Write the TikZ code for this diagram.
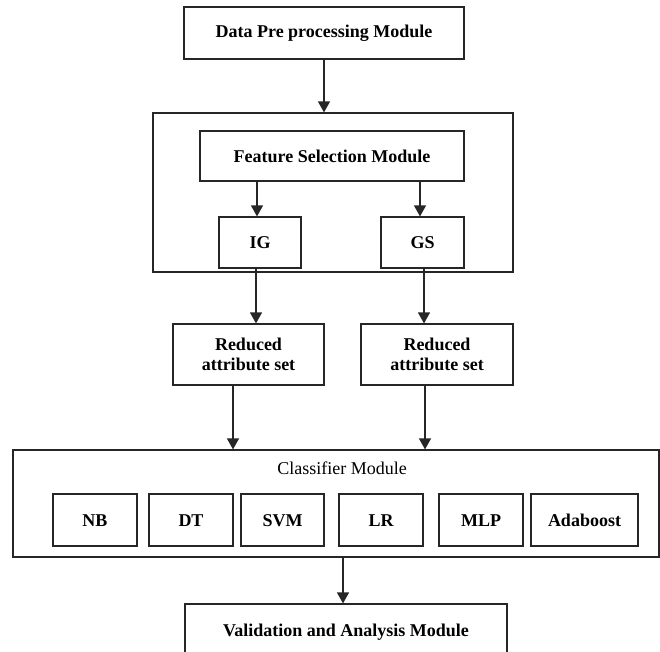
\documentclass[tikz,border=0pt]{standalone}
\usepackage{fontspec}
\setmainfont{Liberation Serif}
\usetikzlibrary{arrows.meta}

\begin{document}
\begin{tikzpicture}[x=1pt, y=-1pt,
    font=\fontsize{18}{20}\selectfont\bfseries,
    box/.style={rectangle, draw=black!85, line width=1.2pt, inner sep=0pt,
                text=black, align=center},
    algo/.style={box, minimum width=84pt, minimum height=52pt, text height=12pt, text depth=0pt},
    flow/.style={draw=black!85, line width=1.2pt, -{Triangle[width=12pt,length=11pt]}},
  ]
  \useasboundingbox (0,0) rectangle (660,651);

  % PRE-PROCESSING
  \node[box, minimum width=280pt, minimum height=52pt] (prep) at (324,33) {Data Pre processing Module};

  % FEATURE SELECTION
  \node[box, minimum width=360pt, minimum height=159pt] (fsel) at (333,192.5) {};
  \node[box, minimum width=264pt, minimum height=50pt] (fsmod) at (332,156) {Feature Selection Module};
  \node[box, minimum width=82pt, minimum height=51pt] (ig) at (260,242.5) {IG};
  \node[box, minimum width=83pt, minimum height=51pt] (gs) at (422.5,242.5) {GS};

  % REDUCED SETS
  \node[box, minimum width=151pt, minimum height=61pt] (redig) at (248.5,354.5) {Reduced\\ attribute set};
  \node[box, minimum width=152pt, minimum height=61pt] (redgs) at (437,354.5) {Reduced\\ attribute set};

  % CLASSIFIERS
  \node[box, minimum width=646pt, minimum height=107pt] (clf) at (336,503.5) {};
  \node[font=\fontsize{18}{20}\selectfont] (clftitle) at (342,468) {Classifier Module};
  \node[algo] (nb)  at (95,520)    {NB};
  \node[algo] (dt)  at (191,520)   {DT};
  \node[algo, minimum width=83pt] (svm) at (282.5,520) {SVM};
  \node[algo] (lr)  at (381,520)   {LR};
  \node[algo] (mlp) at (481,520)   {MLP};
  \node[algo, minimum width=107pt] (ada) at (584.5,520) {Adaboost};

  % VALIDATION
  \node[box, minimum width=322pt, minimum height=56pt] (valid) at (346,632) {Validation and Analysis Module};

  % ARROWS
  \draw[flow] (prep.south) -- (prep.south |- fsel.north);
  \draw[flow] ([xshift=-3pt]ig.north |- fsmod.south) -- ([xshift=-3pt]ig.north);
  \draw[flow] ([xshift=-2.5pt]gs.north |- fsmod.south) -- ([xshift=-2.5pt]gs.north);
  \draw[flow] ([xshift=-4pt]ig.south) -- ([xshift=-4pt]ig.south |- redig.north);
  \draw[flow] ([xshift=1.5pt]gs.south) -- ([xshift=1.5pt]gs.south |- redgs.north);
  \draw[flow] ([xshift=-15.5pt]redig.south) -- ([xshift=-15.5pt]redig.south |- clf.north);
  \draw[flow] ([xshift=-12pt]redgs.south) -- ([xshift=-12pt]redgs.south |- clf.north);
  \draw[flow] ([xshift=7pt]clf.south) -- ([xshift=7pt]clf.south |- valid.north);

\end{tikzpicture}
\end{document}
